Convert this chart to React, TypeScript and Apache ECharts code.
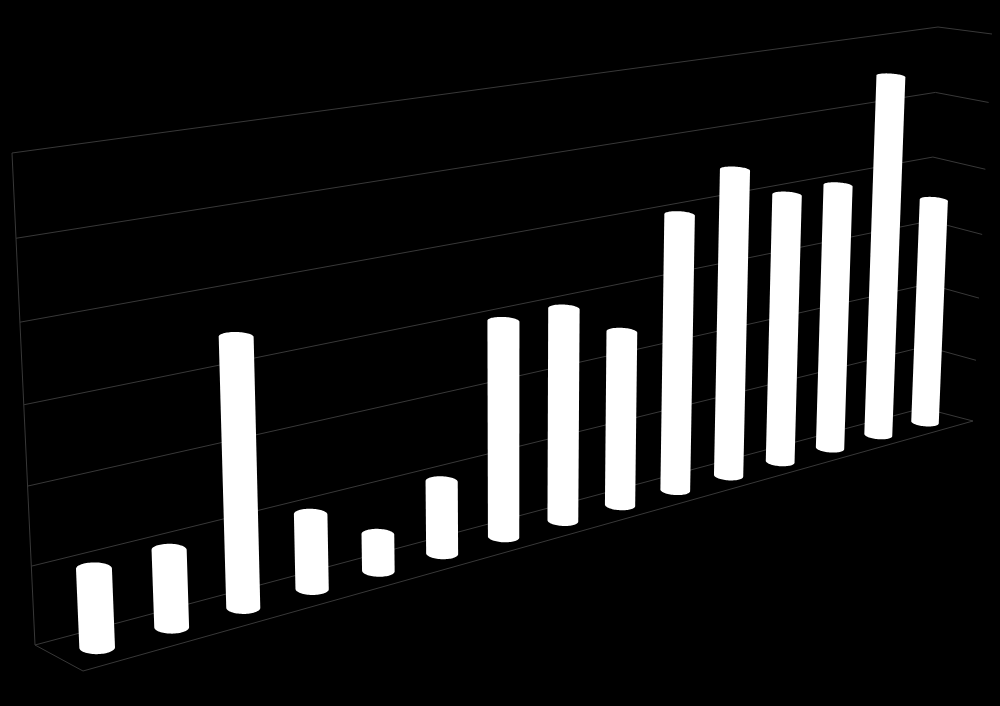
import React, { useEffect, useRef } from "react";
import * as echarts from "echarts";

const categories = ["1", "2", "3", "4", "5", "6", "7", "8", "9", "10", "11", "12", "13", "14", "15"];
const barValues = [10, 10, 35, 10, 5, 10, 30, 30, 25, 40, 45, 40, 40, 55, 35];
const axisTicks = [0, 10, 20, 30, 40, 50, 60];

// Picture positions of the corners of the 3D box (perspective of the chart frame)
const wallBL = [35, 645];
const wallBR = [923, 408];
const wallTR = [938, 27];
const wallTL = [12, 153];
const floorFL = [83, 671];
const floorFR = [973, 421];
const sideTF = [992, 34];
const LINE = "#383838";
const BAR_DEPTH = 0.5;
const RADIUS_X = 0.193 / categories.length;
const RADIUS_Z = 0.21;

function homography(p0: number[], p1: number[], p2: number[], p3: number[]) {
  const [x0, y0] = p0, [x1, y1] = p1, [x2, y2] = p2, [x3, y3] = p3;
  const dx1 = x1 - x2, dx2 = x3 - x2, sx = x0 - x1 + x2 - x3;
  const dy1 = y1 - y2, dy2 = y3 - y2, sy = y0 - y1 + y2 - y3;
  const den = dx1 * dy2 - dx2 * dy1;
  const g = (sx * dy2 - dx2 * sy) / den;
  const h = (dx1 * sy - sx * dy1) / den;
  return {
    a: x1 - x0 + g * x1, b: x3 - x0 + h * x3, c: x0,
    d: y1 - y0 + g * y1, e: y3 - y0 + h * y3, f: y0,
    g, h,
  };
}

function makeProjection() {
  const { a, b, c, d, e, f, g, h } = homography(wallBL, wallBR, wallTR, wallTL);
  const k = (a - floorFR[0] * g) / (floorFR[0] - floorFL[0]);
  const zx = k * floorFL[0] - c, zy = k * floorFL[1] - f, zw = k - 1;
  return (X: number, Y: number, Z: number): number[] => {
    const w = g * X + h * Y + zw * Z + 1;
    return [(a * X + b * Y + zx * Z + c) / w, (d * X + e * Y + zy * Z + f) / w];
  };
}
const project = makeProjection();

// The right side wall's front edge, from its own four corners
const side = homography(wallBR, floorFR, sideTF, wallTR);
function sideFront(Y: number): number[] {
  const w = side.g + side.h * Y + 1;
  return [(side.a + side.b * Y + side.c) / w, (side.d + side.e * Y + side.f) / w];
}

function convexHull(points: number[][]) {
  const p = [...points].sort((m, n) => m[0] - n[0] || m[1] - n[1]);
  const cross = (o: number[], m: number[], n: number[]) =>
    (m[0] - o[0]) * (n[1] - o[1]) - (m[1] - o[1]) * (n[0] - o[0]);
  const lower: number[][] = [];
  for (const q of p) {
    while (lower.length >= 2 && cross(lower[lower.length - 2], lower[lower.length - 1], q) <= 0) lower.pop();
    lower.push(q);
  }
  const upper: number[][] = [];
  for (const q of [...p].reverse()) {
    while (upper.length >= 2 && cross(upper[upper.length - 2], upper[upper.length - 1], q) <= 0) upper.pop();
    upper.push(q);
  }
  return lower.slice(0, -1).concat(upper.slice(0, -1));
}

function renderBar(params: any, api: any) {
  const cs = params.coordSys;
  const base = api.coord([api.value(0), 0]);
  const top = api.coord([api.value(0), api.value(1)]);
  const X = (base[0] - cs.x) / cs.width;
  const baseY = (cs.y + cs.height - base[1]) / cs.height;
  const topY = (cs.y + cs.height - top[1]) / cs.height;
  const pts: number[][] = [];
  for (let t = 0; t < 72; t++) {
    const an = (t / 72) * Math.PI * 2;
    const px = X + RADIUS_X * Math.cos(an);
    const pz = BAR_DEPTH + RADIUS_Z * Math.sin(an);
    pts.push(project(px, baseY, pz));
    pts.push(project(px, topY, pz));
  }
  return {
    type: "polygon",
    shape: { points: convexHull(pts) },
    style: { fill: "#ffffff", stroke: "none" },
  };
}

function renderTick(params: any, api: any) {
  const cs = params.coordSys;
  const y = api.coord([0, api.value(1)])[1];
  const Y = (cs.y + cs.height - y) / cs.height;
  return {
    type: "polyline",
    shape: { points: [project(0, Y, 0), project(1, Y, 0), sideFront(Y)] },
    style: { fill: "none", stroke: LINE, lineWidth: 1 },
  };
}

function renderFrame() {
  return {
    type: "polyline",
    shape: {
      points: [project(0, 1, 0), project(0, 0, 0), floorFL, floorFR],
    },
    style: { fill: "none", stroke: LINE, lineWidth: 1 },
  };
}

export default function App() {
  const ref = useRef<HTMLDivElement>(null);
  useEffect(() => {
    if (!ref.current) return;
    document.body.style.margin = "0";
    document.body.style.background = "#000000";
    const chart = echarts.init(ref.current, undefined, { renderer: "svg" });
    chart.setOption({
      animation: false,
      backgroundColor: "#000000",
      grid: { left: 0, right: 0, top: 0, bottom: 0 },
      xAxis: { type: "category", data: categories, show: false },
      yAxis: { type: "value", min: 0, max: 60, interval: 10, show: false },
      tooltip: { show: false },
      series: [
        {
          type: "custom",
          coordinateSystem: "cartesian2d",
          silent: true,
          z: 1,
          data: [[0, 0]],
          renderItem: renderFrame,
        },
        {
          type: "custom",
          coordinateSystem: "cartesian2d",
          silent: true,
          z: 1,
          data: axisTicks.map((t) => [0, t]),
          renderItem: renderTick,
        },
        {
          type: "custom",
          coordinateSystem: "cartesian2d",
          silent: true,
          z: 2,
          data: barValues.map((v, i) => [i, v]),
          renderItem: renderBar,
        },
      ],
    });
    return () => chart.dispose();
  }, []);
  return <div ref={ref} style={{ width: 1000, height: 706 }} />;
}
